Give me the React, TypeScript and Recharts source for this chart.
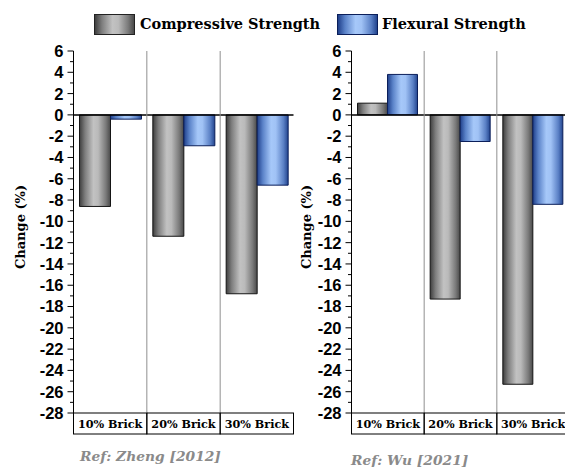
import { BarChart, Bar, XAxis, YAxis, ReferenceLine } from "recharts";

const categories = ["10% Brick", "20% Brick", "30% Brick"];
const zhengCompressive = [-8.6, -11.4, -16.8];
const zhengFlexural = [-0.4, -2.9, -6.6];
const wuCompressive = [1.1, -17.3, -25.3];
const wuFlexural = [3.8, -2.5, -8.4];
const seriesNames = ["Compressive Strength", "Flexural Strength"];
const yTickLabels = [6, 4, 2, 0, -2, -4, -6, -8, -10, -12, -14, -16, -18, -20, -22, -24, -26, -28];

const SERIF = "'DejaVu Serif', serif";
const SANS = "'Liberation Sans', Arial, sans-serif";

const CHART_W = 300;
const CHART_H = 467;
const PLOT_TOP = 51;
const PLOT_BOTTOM = 413;
const AXIS_X = 73.5;
const Y_AXIS_W = 60;
const CELL_H = 21;

// every integer between the labelled ticks gets a minor tick
const allTicks: number[] = [];
for (let v = yTickLabels[0]; v >= yTickLabels[yTickLabels.length - 1]; v--) allTicks.push(v);

const makeRows = (comp: number[], flex: number[]) =>
  categories.map((cat, i) => ({ cat, comp: comp[i], flex: flex[i] }));

function YTick(props: any) {
  const { x, y, payload } = props;
  const v = payload.value as number;
  const major = v % 2 === 0;
  return (
    <g>
      <line x1={x - (major ? 6 : 3.5)} x2={x} y1={y} y2={y} stroke="#000" strokeWidth={1} />
      {major && (
        <text x={x - 10} y={y} dy="0.36em" textAnchor="end" fontFamily={SANS} fontWeight="bold" fontSize={16.5} fill="#000">
          {v}
        </text>
      )}
    </g>
  );
}

function makeXTick(bandWidth: number) {
  return function XTick(props: any) {
    const { x, y, payload, index } = props;
    const left = x - bandWidth / 2;
    return (
      <g>
        {index > 0 && <line x1={left} x2={left} y1={PLOT_TOP} y2={y} stroke="#8f8f8f" strokeWidth={1} />}
        <rect x={left} y={y} width={bandWidth} height={CELL_H} fill="none" stroke="#000" strokeWidth={1} />
        <text x={x} y={y + CELL_H / 2 + 0.5} dy="0.36em" textAnchor="middle" fontFamily={SERIF} fontWeight="bold" fontSize={11.2} fill="#000">
          {payload.value}
        </text>
      </g>
    );
  };
}

function Gradients({ id }: { id: string }) {
  return (
    <defs>
      <linearGradient id={`gray-${id}`} x1="0" y1="0" x2="1" y2="0">
        <stop offset="0%" stopColor="#3e3e3e" />
        <stop offset="18%" stopColor="#7e7e7e" />
        <stop offset="45%" stopColor="#c2c2c2" />
        <stop offset="60%" stopColor="#bababa" />
        <stop offset="85%" stopColor="#7a7a7a" />
        <stop offset="100%" stopColor="#484848" />
      </linearGradient>
      <linearGradient id={`blue-${id}`} x1="0" y1="0" x2="1" y2="0">
        <stop offset="0%" stopColor="#1f3f8a" />
        <stop offset="18%" stopColor="#5a82c8" />
        <stop offset="45%" stopColor="#a6c8f9" />
        <stop offset="60%" stopColor="#a0c2f5" />
        <stop offset="85%" stopColor="#5a80c5" />
        <stop offset="100%" stopColor="#22448e" />
      </linearGradient>
    </defs>
  );
}

function Panel({ id, comp, flex, plotWidth, labelX }: { id: string; comp: number[]; flex: number[]; plotWidth: number; labelX: number }) {
  const rows = makeRows(comp, flex);
  const cy = 227;
  return (
    <BarChart
      width={CHART_W}
      height={CHART_H}
      data={rows}
      margin={{ top: PLOT_TOP, right: CHART_W - AXIS_X - plotWidth, bottom: CHART_H - PLOT_BOTTOM - (CELL_H + 1), left: AXIS_X - Y_AXIS_W }}
      barCategoryGap={6}
      barGap={0}
    >
      <Gradients id={id} />
      <XAxis
        dataKey="cat"
        height={CELL_H + 1}
        axisLine={false}
        tickLine={false}
        tickSize={0}
        tickMargin={0}
        interval={0}
        tick={makeXTick(plotWidth / categories.length)}
      />
      <YAxis
        type="number"
        domain={[yTickLabels[yTickLabels.length - 1], yTickLabels[0]]}
        ticks={allTicks}
        interval={0}
        width={Y_AXIS_W}
        axisLine={{ stroke: "#000", strokeWidth: 1 }}
        tickLine={false}
        tickSize={0}
        tickMargin={0}
        tick={<YTick />}
        label={{
          content: () => (
            <text
              x={labelX}
              y={cy}
              transform={`rotate(-90 ${labelX} ${cy})`}
              textAnchor="middle"
              dominantBaseline="central"
              fontFamily={SERIF}
              fontWeight="bold"
              fontSize={13}
              fill="#000"
            >
              Change (%)
            </text>
          ),
        }}
      />
      <Bar dataKey="comp" name={seriesNames[0]} fill={`url(#gray-${id})`} stroke="#151515" strokeWidth={1} isAnimationActive={false} />
      <Bar dataKey="flex" name={seriesNames[1]} fill={`url(#blue-${id})`} stroke="#0b1f5a" strokeWidth={1} isAnimationActive={false} />
      <ReferenceLine y={0} stroke="#000" strokeWidth={1.5} />
    </BarChart>
  );
}

const swatch = (left: number, bg: string, border: string) => ({
  position: "absolute" as const,
  left,
  width: 41,
  height: 21,
  top: 14,
  background: bg,
  border: `1px solid ${border}`,
  boxSizing: "border-box" as const,
});

const legendText = {
  position: "absolute" as const,
  top: 13,
  fontFamily: SERIF,
  fontWeight: "bold" as const,
  fontSize: 14.5,
  lineHeight: "22px",
  color: "#000",
  whiteSpace: "nowrap" as const,
};

const refText = {
  position: "absolute" as const,
  fontFamily: SERIF,
  fontWeight: "bold" as const,
  fontStyle: "italic" as const,
  fontSize: 13.8,
  color: "#8a8a8a",
  whiteSpace: "nowrap" as const,
};

export default function App() {
  return (
    <div style={{ position: "absolute", left: 0, top: 0, width: 565, height: 467, overflow: "hidden", background: "#fff" }}>
      <div style={swatch(94, "linear-gradient(to right, #3e3e3e, #7e7e7e 18%, #c2c2c2 45%, #bababa 60%, #7a7a7a 85%, #484848)", "#222")} />
      <div style={{ ...legendText, left: 140 }}>{seriesNames[0]}</div>
      <div style={swatch(337, "linear-gradient(to right, #1f3f8a, #5a82c8 18%, #a6c8f9 45%, #a0c2f5 60%, #5a80c5 85%, #22448e)", "#0b1f5a")} />
      <div style={{ ...legendText, left: 382 }}>{seriesNames[1]}</div>

      <div style={{ position: "absolute", left: 0, top: 0 }}>
        <Panel id="zheng" comp={zhengCompressive} flex={zhengFlexural} plotWidth={220} labelX={20} />
      </div>
      <div style={{ position: "absolute", left: 277.5, top: 0 }}>
        <Panel id="wu" comp={wuCompressive} flex={wuFlexural} plotWidth={218} labelX={28} />
      </div>

      <div style={{ ...refText, left: 80, top: 448 }}>Ref: Zheng [2012]</div>
      <div style={{ ...refText, left: 351, top: 452 }}>Ref: Wu [2021]</div>
    </div>
  );
}
